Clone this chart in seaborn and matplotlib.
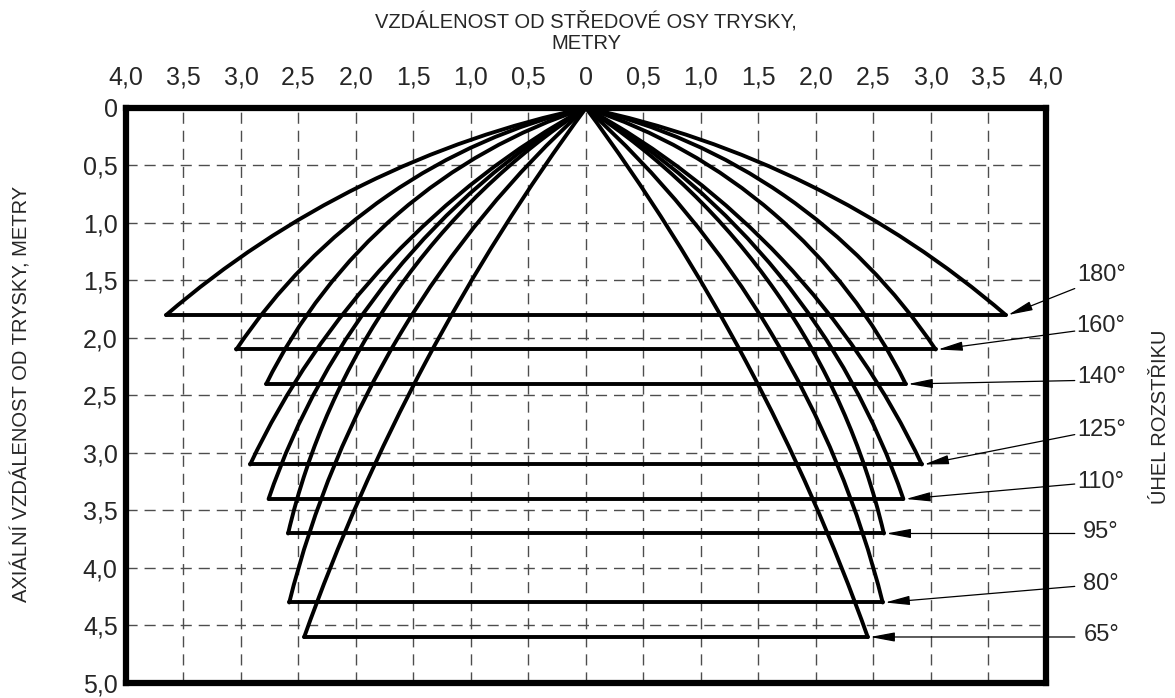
import numpy as np
import pandas as pd
import seaborn as sns
import matplotlib.pyplot as plt
from matplotlib.patches import Arc

# spray cone for each nozzle angle: depth of the base line, half width,
# and one point (used to bend the side arc)
angles = [180, 160, 140, 125, 110, 95, 80, 65]
depths = [1.8, 2.1, 2.4, 3.1, 3.4, 3.7, 4.3, 4.6]
half_widths = [3.65, 3.04, 2.78, 2.92, 2.76, 2.59, 2.58, 2.45]
mid_x = [3.28, 2.57, 2.20, 2.27, 2.08, 1.91, 1.91, 1.79]
mid_y = [1.5, 1.5, 1.5, 2.0, 2.0, 2.0, 2.5, 3.0]

x_ticks = np.arange(-4, 4.01, 0.5)
y_ticks = np.arange(0, 5.01, 0.5)

# where the angle labels sit on the right
label_y = [1.45, 1.90, 2.34, 2.80, 3.25, 3.69, 4.14, 4.58]
tail_y = [1.57, 1.94, 2.37, 2.84, 3.27, 3.70, 4.16, 4.60]


def fmt(v):
    if abs(v) < 1e-9:
        return "0"
    return f"{abs(v):.1f}".replace(".", ",")


def circle_through(p1, p2, p3):
    (x1, y1), (x2, y2), (x3, y3) = p1, p2, p3
    a = 2 * np.array([[x2 - x1, y2 - y1], [x3 - x1, y3 - y1]])
    b = np.array([x2**2 - x1**2 + y2**2 - y1**2, x3**2 - x1**2 + y3**2 - y1**2])
    cx, cy = np.linalg.solve(a, b)
    return cx, cy, np.hypot(x1 - cx, y1 - cy)


sns.set_style("white")
plt.rcParams['font.family'] = ['Liberation Sans', 'DejaVu Sans']

fig = plt.figure(figsize=(11.75, 6.98), dpi=100)
ax = fig.add_axes([0.1072, 0.0215, 0.783, 0.8238])

# base lines of the cones
rows = []
for ang, d, w in zip(angles, depths, half_widths):
    rows.append({"spray": ang, "x": -w, "y": d})
    rows.append({"spray": ang, "x": w, "y": d})
base = pd.DataFrame(rows)
sns.lineplot(data=base, x="x", y="y", units="spray", estimator=None, sort=False,
             color="black", lw=2.8, solid_capstyle="round", ax=ax, zorder=3)

# curved sides
for d, w, mx, my in zip(depths, half_widths, mid_x, mid_y):
    for side in (1, -1):
        cx, cy, r = circle_through((0, 0), (side * w, d), (side * mx, my))
        t0 = np.degrees(np.arctan2(0 - cy, 0 - cx))
        t1 = np.degrees(np.arctan2(d - cy, side * w - cx))
        ax.add_patch(Arc((cx, cy), 2 * r, 2 * r, theta1=min(t0, t1), theta2=max(t0, t1),
                         lw=2.8, color="black", capstyle="round", zorder=3, clip_on=False))

# angle labels with arrows
for ang, d, w, ly, ty in zip(angles, depths, half_widths, label_y, tail_y):
    ax.annotate("", xy=(w + 0.02, d), xytext=(4.25, ty),
                arrowprops=dict(arrowstyle="-|>,head_length=0.75,head_width=0.14",
                                mutation_scale=20, lw=0.9, color="black",
                                shrinkA=0, shrinkB=0),
                annotation_clip=False, zorder=4)
    ax.text(4.48, ly, f"{ang}°", ha="center", va="center", fontsize=17, clip_on=False)

ax.set_xlim(-4, 4)
ax.set_ylim(5, 0)
ax.set_xlabel("")
ax.set_ylabel("")

ax.set_xticks(x_ticks)
ax.set_xticklabels([fmt(v) for v in x_ticks])
ax.set_yticks(y_ticks)
ax.set_yticklabels([fmt(v) for v in y_ticks])
ax.xaxis.tick_top()
ax.tick_params(axis="x", length=0, pad=13, labelsize=18)
ax.tick_params(axis="y", length=0, pad=6, labelsize=18)

ax.grid(True, linestyle=(0, (8, 5)), color="0.3", lw=1.0)
for sp in ax.spines.values():
    sp.set_visible(True)
    sp.set_color("black")
    sp.set_linewidth(4.5)
    sp.set_zorder(5)

fig.text(586 / 1175, 1 - 32 / 698, "VZDÁLENOST OD STŘEDOVÉ OSY TRYSKY,\nMETRY",
         ha="center", va="center", fontsize=14.5, linespacing=1.15)
fig.text(22 / 1175, 0.435, "AXIÁLNÍ VZDÁLENOST OD TRYSKY, METRY", rotation=90,
         ha="center", va="center", fontsize=14.5)
fig.text(1160 / 1175, 1 - 417 / 698, "ÚHEL ROZSTŘIKU", rotation=90,
         ha="center", va="center", fontsize=14.5)

fig.savefig("out.png", dpi=100)
